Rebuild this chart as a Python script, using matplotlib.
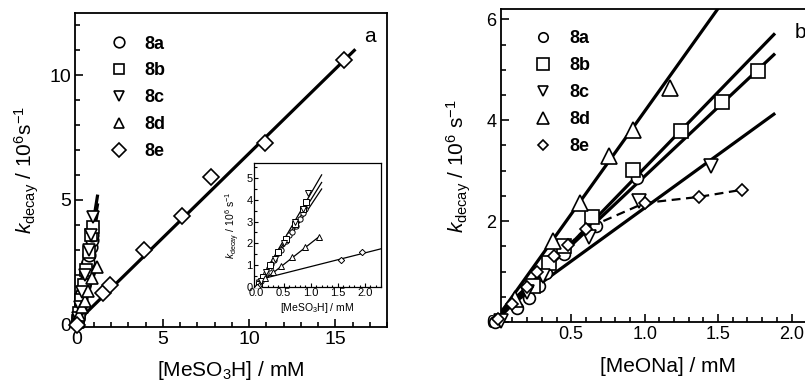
import numpy as np
import matplotlib
matplotlib.use("Agg")
import matplotlib.pyplot as plt
from matplotlib.ticker import MultipleLocator

plt.rcParams['font.family'] = ['Liberation Sans', 'DejaVu Sans']
plt.rcParams['mathtext.fontset'] = 'custom'
plt.rcParams['mathtext.rm'] = 'Liberation Sans'
plt.rcParams['mathtext.it'] = 'Liberation Sans:italic'

labels = ['8a', '8b', '8c', '8d', '8e']
markers = ['o', 's', 'v', '^', 'D']

# panel a: [MeSO3H] / mM vs k_decay / 10^6 s^-1
acid_x = {
    '8a': [0.03, 0.08, 0.12, 0.17, 0.22, 0.27, 0.32, 0.40, 0.45, 0.55, 0.60, 0.66, 0.72, 0.80, 0.86, 0.90],
    '8b': [0.05, 0.12, 0.25, 0.40, 0.55, 0.70, 0.85, 0.92],
    '8c': [0.08, 0.18, 0.33, 0.50, 0.70, 0.85, 0.95],
    '8d': [0.05, 0.15, 0.30, 0.45, 0.65, 0.90, 1.15],
    '8e': [0.0, 1.55, 1.95, 3.9, 6.1, 7.8, 10.9, 15.5],
}
acid_y = {
    '8a': [0.05, 0.25, 0.45, 0.65, 0.85, 1.05, 1.25, 1.55, 1.70, 2.10, 2.40, 2.50, 2.80, 3.10, 3.40, 3.60],
    '8b': [0.15, 0.45, 1.00, 1.60, 2.20, 2.90, 3.60, 3.90],
    '8c': [0.25, 0.70, 1.30, 2.00, 3.00, 3.60, 4.30],
    '8d': [0.10, 0.40, 0.70, 0.95, 1.35, 1.85, 2.30],
    '8e': [0.0, 1.25, 1.60, 3.0, 4.35, 5.9, 7.3, 10.6],
}
# straight-line fits (endpoints)
acid_fit_x = {'8a': [0, 1.2], '8b': [0, 1.2], '8c': [0, 1.2], '8d': [0, 1.15], '8e': [0, 16.1]}
acid_fit_y = {'8a': [0, 4.5], '8b': [0, 4.8], '8c': [0, 5.15], '8d': [0.05, 2.3], '8e': [0.1, 11.0]}
inset_fit_8e_x = [0, 2.35]
inset_fit_8e_y = [0.3, 1.78]

# panel b: [MeONa] / mM vs k_decay / 10^6 s^-1
base_x = {
    '8a': [-0.02, 0.13, 0.21, 0.28, 0.33, 0.45, 0.67, 0.95],
    '8b': [0.24, 0.35, 0.45, 0.64, 0.92, 1.25, 1.53, 1.77],
    '8c': [0.02, 0.20, 0.31, 0.62, 0.96, 1.45],
    '8d': [0.12, 0.375, 0.56, 0.76, 0.92, 1.17],
    '8e': [0.0, 0.10, 0.20, 0.27, 0.38, 0.48, 0.60, 1.0, 1.37, 1.66],
}
base_y = {
    '8a': [0.0, 0.28, 0.48, 0.71, 0.97, 1.34, 1.90, 2.86],
    '8b': [0.71, 1.17, 1.51, 2.09, 3.02, 3.78, 4.37, 4.97],
    '8c': [0.02, 0.60, 0.91, 1.69, 2.39, 3.09],
    '8d': [0.45, 1.60, 2.36, 3.30, 3.81, 4.64],
    '8e': [0.05, 0.35, 0.70, 1.00, 1.30, 1.52, 1.85, 2.36, 2.48, 2.62],
}
base_fit_x = {'8a': [0, 1.88], '8b': [0, 1.88], '8c': [0, 1.88], '8d': [0, 1.55]}
base_fit_y = {'8a': [0.05, 5.7], '8b': [0.15, 5.3], '8c': [0.15, 4.12], '8d': [0.1, 6.42]}

fig = plt.figure(figsize=(8.05, 3.87), dpi=100)


def style_axes(ax, lw=1.3, major=6, minor=3.5, size=13):
    for s in ax.spines.values():
        s.set_linewidth(lw)
    ax.tick_params(which='both', direction='in', top=False, right=False,
                   width=lw * 0.9, labelsize=size, pad=3)
    ax.tick_params(which='major', length=major)
    ax.tick_params(which='minor', length=minor)


mfc = 'white'

# ---- panel a ----
axa = fig.add_axes([0.0932, 0.155, 0.3876, 0.8114])
for lab in labels:
    axa.plot(acid_fit_x[lab], acid_fit_y[lab], '-', color='black', lw=2.3, zorder=2)
sizes_a = {'8a': 9, '8b': 9, '8c': 9, '8d': 9, '8e': 8}
handles_a = []
for lab, m in zip(labels, markers):
    h, = axa.plot(acid_x[lab], acid_y[lab], ls='none', marker=m, ms=sizes_a[lab],
                  mfc=mfc, mec='black', mew=1.2, clip_on=False, zorder=3, label=lab)
    handles_a.append(h)
axa.set_xlim(-0.1, 18)
axa.set_ylim(-0.1, 12.5)
axa.xaxis.set_major_locator(MultipleLocator(5))
axa.xaxis.set_minor_locator(MultipleLocator(1))
axa.yaxis.set_major_locator(MultipleLocator(5))
axa.yaxis.set_minor_locator(MultipleLocator(1))
style_axes(axa, size=14)
axa.set_xlabel('[MeSO$_3$H] / mM', fontsize=15, labelpad=8)
axa.set_ylabel('$k_\\mathrm{decay}$ / 10$^6$s$^{-1}$', fontsize=15, labelpad=6)
axa.text(0.925, 0.925, 'a', transform=axa.transAxes, fontsize=15, ha='left', va='center')
leg = axa.legend(handles=handles_a, loc='upper left', bbox_to_anchor=(0.06, 0.98),
                 frameon=False, handlelength=1.0, handletextpad=0.9, labelspacing=0.55,
                 prop={'weight': 'bold', 'size': 13}, markerscale=0.85)

# ---- inset ----
axi = fig.add_axes([0.3155, 0.259, 0.158, 0.320])
for lab in ['8a', '8b', '8c', '8d']:
    axi.plot(acid_fit_x[lab], acid_fit_y[lab], '-', color='black', lw=0.9, zorder=2)
axi.plot(inset_fit_8e_x, inset_fit_8e_y, '-', color='black', lw=0.9, zorder=2)
for lab, m in zip(labels, markers):
    axi.plot(acid_x[lab], acid_y[lab], ls='none', marker=m, ms=3.8 if m != 'D' else 3.2,
             mfc=mfc, mec='black', mew=0.7, zorder=3)
axi.set_xlim(-0.05, 2.3)
axi.set_ylim(0, 5.7)
axi.xaxis.set_major_locator(MultipleLocator(0.5))
axi.xaxis.set_minor_locator(MultipleLocator(0.1))
axi.yaxis.set_major_locator(MultipleLocator(1))
axi.yaxis.set_minor_locator(MultipleLocator(0.5))
axi.xaxis.set_major_formatter(matplotlib.ticker.FormatStrFormatter('%.1f'))
style_axes(axi, lw=0.9, major=3, minor=1.8, size=8)
axi.tick_params(pad=1)
axi.set_xlabel('[MeSO$_3$H] / mM', fontsize=7.5, labelpad=2)
axi.set_ylabel('$k_\\mathrm{decay}$ / 10$^6$ s$^{-1}$', fontsize=7.5, labelpad=3)

# ---- panel b ----
axb = fig.add_axes([0.622, 0.168, 0.416, 0.808])
for lab in ['8a', '8b', '8c', '8d']:
    axb.plot(base_fit_x[lab], base_fit_y[lab], '-', color='black', lw=2.3, zorder=2)
axb.plot(base_x['8e'][5:], base_y['8e'][5:], '--', color='black', lw=1.6, dashes=(4, 2.5), zorder=2)
sizes_b = {'8a': 8.5, '8b': 10, '8c': 9.5, '8d': 11, '8e': 6.5}
handles_b = []
for lab, m in zip(labels, markers):
    h, = axb.plot(base_x[lab], base_y[lab], ls='none', marker=m, ms=sizes_b[lab],
                  mfc=mfc, mec='black', mew=1.2, clip_on=False, zorder=3, label=lab)
    handles_b.append(h)
axb.set_xlim(0.02, 2.3)
axb.set_ylim(0, 6.2)
axb.xaxis.set_major_locator(MultipleLocator(0.5))
axb.xaxis.set_minor_locator(MultipleLocator(0.1))
axb.yaxis.set_major_locator(MultipleLocator(2))
axb.yaxis.set_minor_locator(MultipleLocator(0.5))
axb.xaxis.set_major_formatter(matplotlib.ticker.FormatStrFormatter('%.1f'))
style_axes(axb, size=13)
axb.set_xlabel('[MeONa] / mM', fontsize=15, labelpad=10)
axb.set_ylabel('$k_\\mathrm{decay}$ / 10$^6$ s$^{-1}$', fontsize=15, labelpad=10)
axb.text(2.02, 5.73, 'b', fontsize=15, ha='left', va='center')
axb.legend(handles=handles_b, loc='upper left', bbox_to_anchor=(0.05, 0.985),
           frameon=False, handlelength=1.0, handletextpad=1.0, labelspacing=0.55,
           prop={'weight': 'bold', 'size': 13}, markerscale=0.8)

fig.savefig('out.png', dpi=100)
